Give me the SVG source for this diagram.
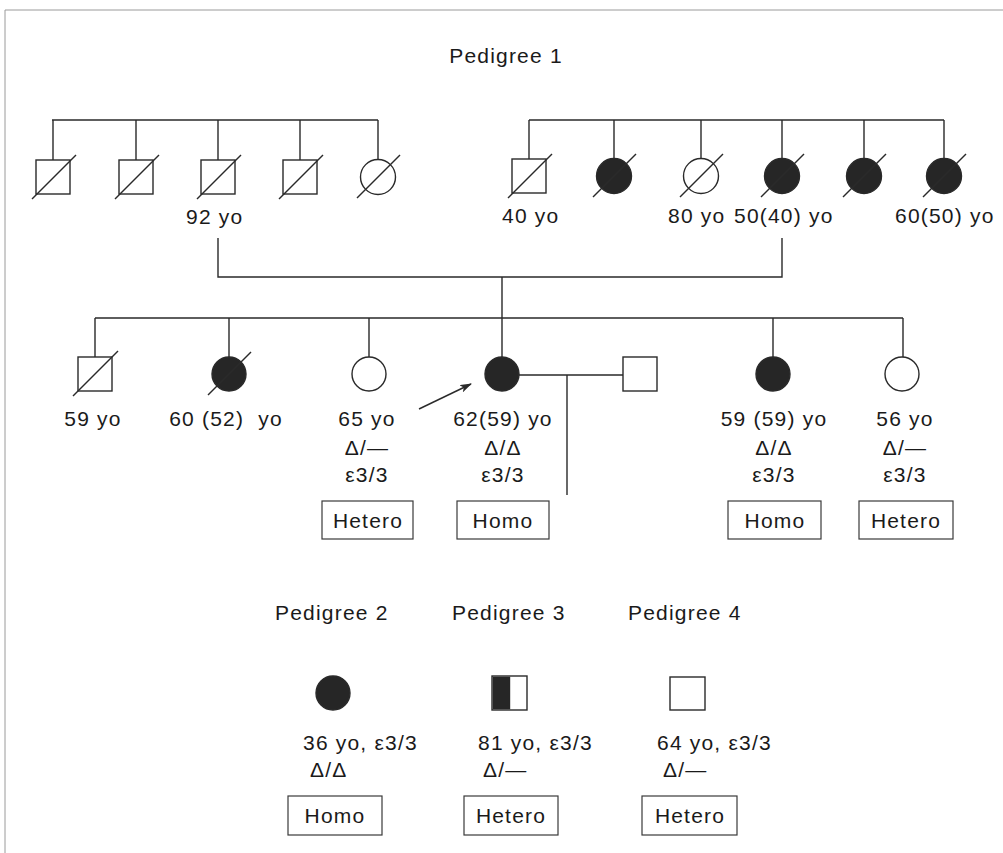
<svg xmlns="http://www.w3.org/2000/svg" width="1003" height="853" viewBox="0 0 1003 853">
<style>
.frame{stroke:#9a9a9a;stroke-width:1;fill:none}
.ln{stroke:#2a2a2a;stroke-width:1.4;fill:none}
.sym{stroke:#2a2a2a;stroke-width:1.4;fill:#fff}
.aff{stroke:#2a2a2a;stroke-width:1.4;fill:#262626}
.dec{stroke:#2a2a2a;stroke-width:1.4}
.box{stroke:#3a3a3a;stroke-width:1.2;fill:#fff}
text{font-family:"Liberation Sans",Arial,sans-serif;font-size:21px;fill:#1a1a1a;letter-spacing:1.2px}
.c{text-anchor:middle}
</style>
<defs>
<marker id="arr" viewBox="0 0 12 8" refX="11" refY="4" markerWidth="12" markerHeight="8" markerUnits="userSpaceOnUse" orient="auto">
<path d="M0,0 L12,4 L0,8 L3,4 Z" fill="#2a2a2a"/>
</marker>
</defs>
<rect width="1003" height="853" fill="#fff"/>
<path class="frame" d="M5 853 V10 H1003"/>
<text x="506" y="63" class="c">Pedigree 1</text>

<g id="connectors">
<path class="ln" d="M52 120 H378 M53 120 V160 M136 120 V160 M218 120 V160 M300 120 V160 M378 120 V159.5"/>
<path class="ln" d="M529 120 H944 M529 120 V159 M614 120 V158.5 M701 120 V158.5 M782 120 V158.5 M864 120 V158.5 M944 120 V158.5"/>
<path class="ln" d="M218 238 V277 H782 V238 M502 277 V357"/>
<path class="ln" d="M95 318 H903 M95 318 V357 M229 318 V357 M369 318 V357 M773 318 V357 M903 318 V357"/>
<path class="ln" d="M519 375 H623 M567 375 V495"/>
<path class="ln" d="M419 409 L471 384" marker-end="url(#arr)"/>
</g>

<g id="I-1"><rect class="sym" x="36" y="160" width="34" height="34"/><line class="dec" x1="32" y1="199" x2="76" y2="155"/></g>
<g id="I-2"><rect class="sym" x="119" y="160" width="34" height="34"/><line class="dec" x1="115" y1="199" x2="159" y2="155"/></g>
<g id="I-3"><rect class="sym" x="201" y="160" width="34" height="34"/><line class="dec" x1="197" y1="199" x2="241" y2="155"/><text x="186" y="224">92 yo</text></g>
<g id="I-4"><rect class="sym" x="283" y="160" width="34" height="34"/><line class="dec" x1="279" y1="199" x2="323" y2="155"/></g>
<g id="I-5"><circle class="sym" cx="378" cy="177" r="17.5"/><line class="dec" x1="357" y1="198" x2="400" y2="155"/></g>

<g id="I-6"><rect class="sym" x="512" y="159" width="34" height="34"/><line class="dec" x1="508" y1="198" x2="552" y2="154"/><text x="502" y="223">40 yo</text></g>
<g id="I-7"><circle class="aff" cx="614" cy="176" r="17.5"/><line class="dec" x1="593" y1="197" x2="636" y2="154"/></g>
<g id="I-8"><circle class="sym" cx="701" cy="176" r="17.5"/><line class="dec" x1="680" y1="197" x2="723" y2="154"/><text x="668" y="223">80 yo</text></g>
<g id="I-9"><circle class="aff" cx="782" cy="176" r="17.5"/><line class="dec" x1="761" y1="197" x2="804" y2="154"/><text x="734" y="223">50(40) yo</text></g>
<g id="I-10"><circle class="aff" cx="864" cy="176" r="17.5"/><line class="dec" x1="843" y1="197" x2="886" y2="154"/></g>
<g id="I-11"><circle class="aff" cx="944" cy="176" r="17.5"/><line class="dec" x1="923" y1="197" x2="966" y2="154"/><text x="895" y="223">60(50) yo</text></g>

<g id="II-1"><rect class="sym" x="78" y="357" width="34" height="34"/><line class="dec" x1="73" y1="396" x2="118" y2="351"/><text x="93" y="426" class="c">59 yo</text></g>
<g id="II-2"><circle class="aff" cx="229" cy="374" r="17"/><line class="dec" x1="208" y1="395" x2="251" y2="352"/><text x="226" y="426" class="c" xml:space="preserve">60 (52)  yo</text></g>
<g id="II-3"><circle class="sym" cx="369" cy="374" r="17"/><text x="367" y="426" class="c">65 yo</text><text x="367" y="455" class="c">Δ/—</text><text x="367" y="482" class="c">ε3/3</text>
<rect class="box" x="322" y="501" width="91" height="38"/><text x="368" y="528" class="c">Hetero</text></g>
<g id="II-4"><circle class="aff" cx="502" cy="374" r="17"/><text x="503" y="426" class="c">62(59) yo</text><text x="503" y="455" class="c">Δ/Δ</text><text x="503" y="482" class="c">ε3/3</text>
<rect class="box" x="457" y="501" width="92" height="38"/><text x="503" y="528" class="c">Homo</text></g>
<g id="II-5"><rect class="sym" x="623" y="357" width="34" height="34"/></g>
<g id="II-6"><circle class="aff" cx="773" cy="374" r="17"/><text x="774" y="426" class="c">59 (59) yo</text><text x="774" y="455" class="c">Δ/Δ</text><text x="774" y="482" class="c">ε3/3</text>
<rect class="box" x="728" y="501" width="93" height="38"/><text x="775" y="528" class="c">Homo</text></g>
<g id="II-7"><circle class="sym" cx="902" cy="374" r="17"/><text x="905" y="426" class="c">56 yo</text><text x="905" y="455" class="c">Δ/—</text><text x="905" y="482" class="c">ε3/3</text>
<rect class="box" x="859" y="501" width="94" height="38"/><text x="906" y="528" class="c">Hetero</text></g>

<g id="P2"><text x="275" y="620">Pedigree 2</text><circle class="aff" cx="333" cy="693" r="17"/><text x="303" y="750">36 yo, ε3/3</text><text x="310" y="777">Δ/Δ</text>
<rect class="box" x="288" y="796" width="94" height="39"/><text x="335" y="823" class="c">Homo</text></g>
<g id="P3"><text x="452" y="620">Pedigree 3</text><rect class="sym" x="492" y="676" width="35" height="34"/><rect x="492.7" y="676.7" width="17.5" height="32.6" fill="#262626"/><text x="478" y="750">81 yo, ε3/3</text><text x="483" y="777">Δ/—</text>
<rect class="box" x="464" y="796" width="94" height="39"/><text x="511" y="823" class="c">Hetero</text></g>
<g id="P4"><text x="628" y="620">Pedigree 4</text><rect class="sym" x="670" y="677" width="35" height="33"/><text x="657" y="750">64 yo, ε3/3</text><text x="663" y="777">Δ/—</text>
<rect class="box" x="642" y="796" width="95" height="39"/><text x="690" y="823" class="c">Hetero</text></g>
</svg>
